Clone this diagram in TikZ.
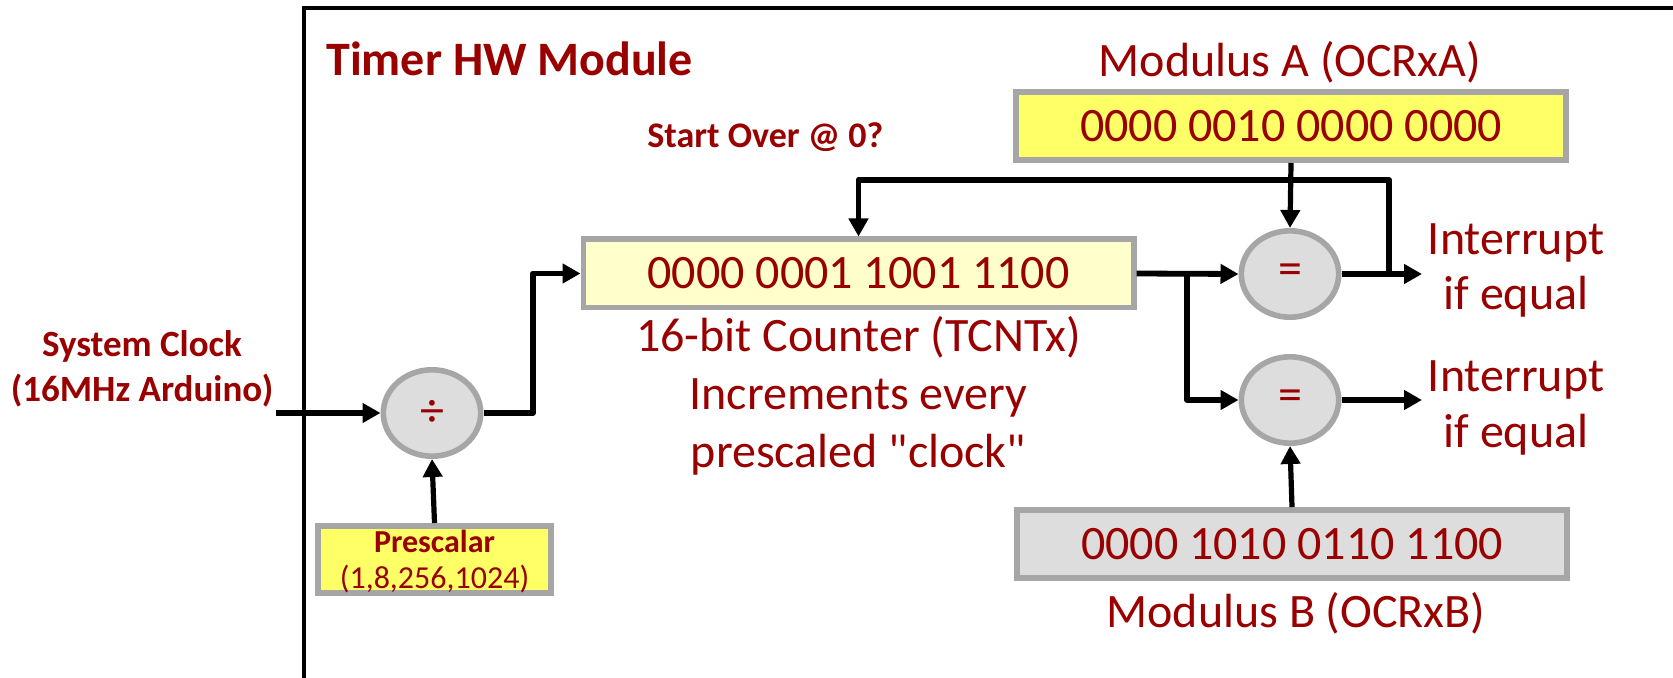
\documentclass[tikz,border=0pt]{standalone}
\usepackage{fontspec}
\setmainfont{Carlito}[Ligatures=TeXOff]
\usetikzlibrary{arrows.meta,shapes.geometric}
\definecolor{dred}{RGB}{153,0,0}
\definecolor{ybright}{RGB}{255,255,102}
\definecolor{ylight}{RGB}{255,255,204}
\definecolor{gfill}{RGB}{221,221,221}
\definecolor{gborder}{RGB}{166,166,166}
\begin{document}
\begin{tikzpicture}[x=0.5pt,y=-0.5pt,
  txt/.style={inner sep=0pt,text=dred},
  big/.style={txt,font=\fontsize{24}{28}\selectfont},
  regbox/.style={draw=gborder,line width=2.8pt,minimum width=275.2pt,minimum height=34.2pt,inner sep=0pt,text=dred,font=\fontsize{24}{28}\selectfont},
  cmp/.style={ellipse,draw=gborder,line width=2.8pt,fill=gfill,minimum width=48.7pt,minimum height=43.2pt,inner sep=0pt,text=dred,font=\fontsize{24}{28}\selectfont},
  thk/.style={line width=2.9pt,line join=round,-{Triangle[length=9pt,width=9.5pt]}},
  thn/.style={line width=2.6pt,-{Triangle[length=9pt,width=9.5pt]}},
]
\useasboundingbox (0,0) rectangle (1673,678);
\draw[line width=2.2pt] (304,690) -- (304,8) -- (1690,8);

% texts
\node[txt,font=\bfseries\fontsize{24}{28}\selectfont,anchor=base west] (title) at (326,76) {Timer HW Module};
\node[txt,font=\bfseries\fontsize{18}{22}\selectfont,anchor=base west] (start) at (647,148) {Start Over @ 0?};
\node[big,anchor=base] (malbl) at (1290,77) {Modulus A (OCRxA)};
\node[big,anchor=base] (mblbl) at (1296,627) {Modulus B (OCRxB)};
\node[big,anchor=base] (cl1) at (858.5,351) {16-bit Counter (TCNTx)};
\node[big,anchor=base] (cl2) at (858.5,409) {Increments every};
\node[big,anchor=base] (cl3) at (858.5,467) {prescaled "clock"};
\node[big,anchor=base] (ia1) at (1516,255) {Interrupt};
\node[big,anchor=base] (ia2) at (1516,310) {if equal};
\node[big,anchor=base] (ib1) at (1516,391) {Interrupt};
\node[big,anchor=base] (ib2) at (1516,447) {if equal};
\node[txt,font=\bfseries\fontsize{18.5}{22}\selectfont,anchor=base] (sc1) at (142,357) {System Clock};
\node[txt,font=\bfseries\fontsize{18.5}{22}\selectfont,anchor=base] (sc2) at (142,401) {(16MHz Arduino)};

% boxes
\node[regbox,fill=ybright] (moda) at (1291,126) {0000 0010 0000 0000};
\node[regbox,fill=ylight] (ctr) at (858.5,273.5) {0000 0001 1001 1100};
\node[regbox,fill=gfill] (modb) at (1292,544) {0000 1010 0110 1100};
\node[draw=gborder,line width=2.8pt,fill=ybright,minimum width=116.7pt,minimum height=33.7pt,inner sep=0pt] (pre) at (434.5,559.5) {};
\node[txt,font=\bfseries\fontsize{16}{18}\selectfont,anchor=base] (pl1) at (434.5,552) {Prescalar};
\node[txt,font=\fontsize{16}{18}\selectfont,anchor=base] (pl2) at (434.5,588) {(1,8,256,1024)};

% comparators
\node[cmp] (div) at (432,413) {÷};
\node[cmp] (eqa) at (1290,274) {=};
\node[cmp] (eqb) at (1290,400) {=};

% connectors
\coordinate (clk) at (276,413);
\coordinate (bendd) at (533,413);
\coordinate (br) at (1187,273.5);
\coordinate (tap) at (1389,274);
\coordinate (outa) at (1422,274);
\coordinate (outb) at (1422,400);

\draw[thk] (clk) -- (div.west);
\draw[thn] (pre.north) -- (div.south);
\draw[thk] (div.east) -- (bendd) |- (ctr.west);
\draw[thk] (ctr.east) -- (eqa.west);
\draw[thk] (br) |- (eqb.west);
\draw[thn] (moda.south) -- (eqa.north);
\draw[thk] (eqa.east) -- (outa);
\draw[thk] (tap) -- ++(0,-94) -| (ctr.north);
\draw[thk] (eqb.east) -- (outb);
\draw[thn] (modb.north) -- (eqb.south);
\end{tikzpicture}
\end{document}
